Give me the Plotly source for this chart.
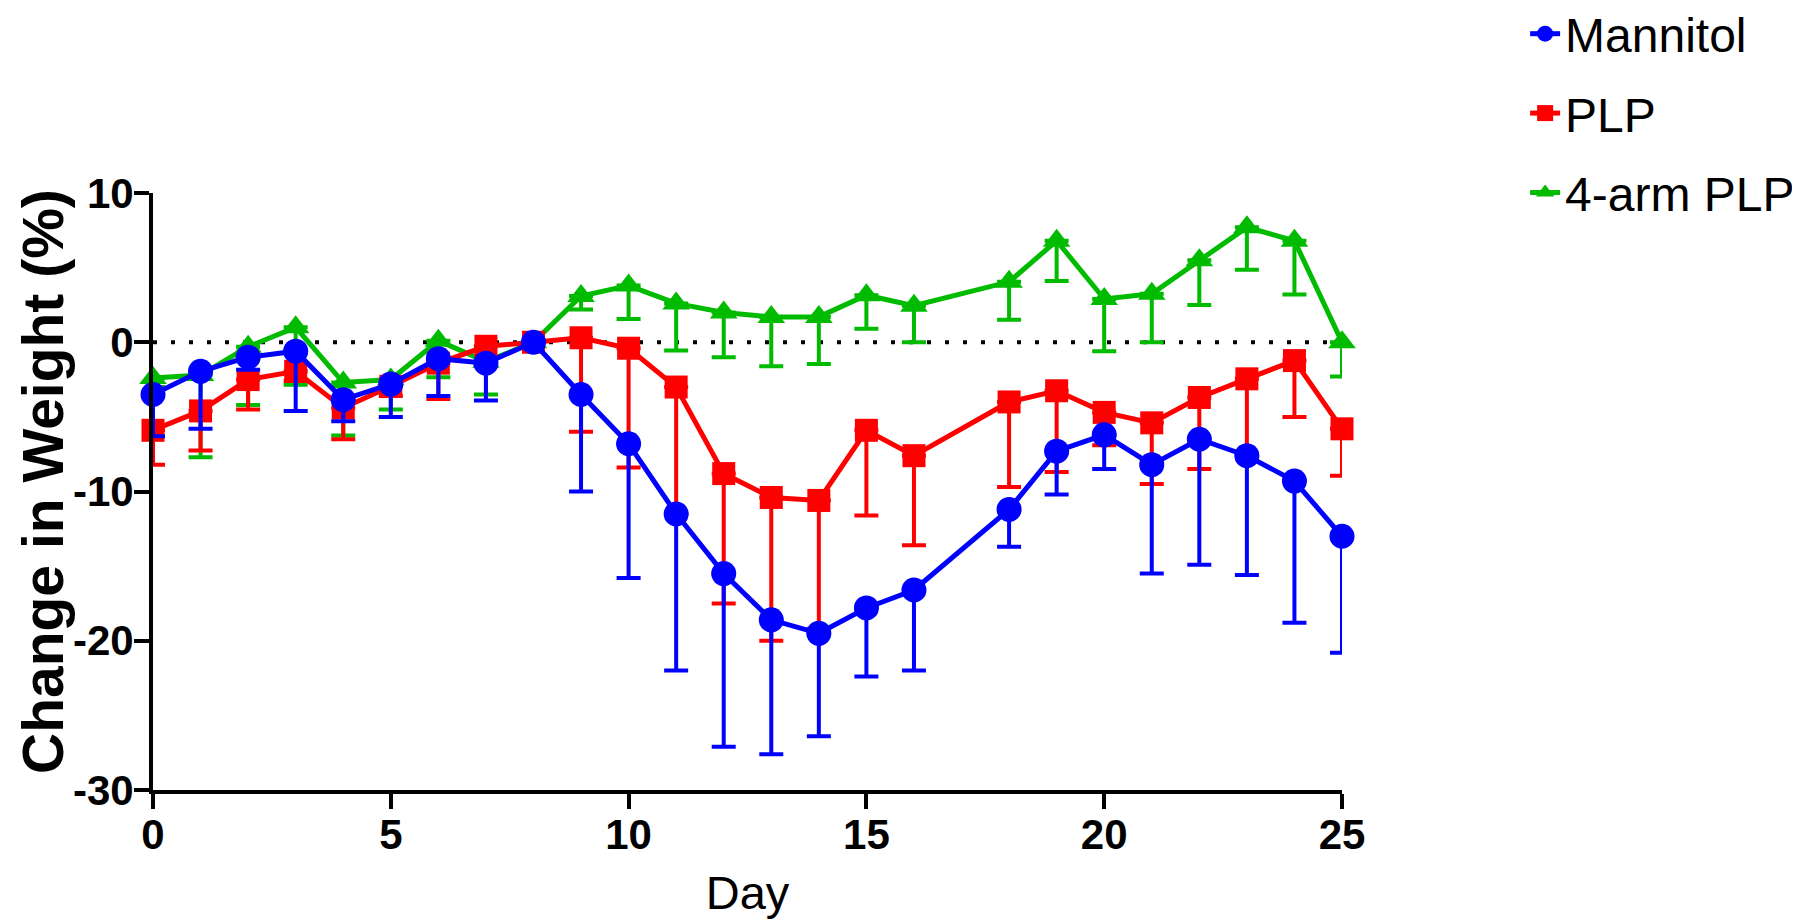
import plotly.graph_objects as go

days = [0, 1, 2, 3, 4, 5, 6, 7, 8, 9, 10, 11, 12, 13, 14, 15, 16, 18, 19, 20, 21, 22, 23, 24, 25]

mannitol_mean = [-3.5, -1.95, -1.0, -0.6, -3.85, -2.8, -1.1, -1.4, 0.0, -3.5, -6.8, -11.5, -15.5,
                 -18.6, -19.5, -17.8, -16.6, -11.2, -7.3, -6.2, -8.2, -6.5, -7.6, -9.3, -13.0]
mannitol_low = [-6.3, -5.8, -1.85, -4.6, -5.3, -5.0, -3.6, -3.9, 0.0, -10.0, -15.8, -22.0, -27.1,
                -27.6, -26.4, -22.4, -22.0, -13.7, -10.2, -8.5, -15.5, -14.9, -15.6, -18.8, -20.8]

plp_mean = [-5.9, -4.6, -2.5, -1.95, -4.4, -2.95, -1.4, -0.27, 0.0, 0.3, -0.4, -3.0, -8.8,
            -10.4, -10.6, -5.9, -7.6, -4.0, -3.25, -4.7, -5.4, -3.7, -2.45, -1.23, -5.8]
plp_low = [-8.2, -7.25, -4.5, -2.6, -6.5, -3.6, -3.8, -1.5, 0.0, -6.0, -8.4, -11.5, -17.5,
           -20.0, -19.2, -11.6, -13.6, -9.7, -8.7, -6.9, -9.5, -8.5, -7.5, -5.0, -8.95]

arm4_mean = [-2.4, -2.2, -0.3, 1.0, -2.7, -2.5, 0.1, -1.3, 0.0, 3.1, 3.8, 2.6, 2.0,
             1.7, 1.7, 3.15, 2.45, 4.05, 6.8, 2.9, 3.25, 5.5, 7.7, 6.8, 0.0]
arm4_low = [-3.0, -7.7, -4.2, -2.85, -6.25, -4.5, -2.35, -3.5, 0.0, 2.2, 1.55, -0.55, -1.0,
            -1.6, -1.45, 0.9, 0.0, 1.5, 4.1, -0.6, 0.0, 2.5, 4.85, 3.2, -2.3]

x_ticks = [0, 5, 10, 15, 20, 25]
y_ticks = [-30, -20, -10, 0, 10]
y_tick_text = ["-30", "-20", "-10", "0", "10"]

# drawing order: green first, blue on top; legend rank puts Mannitol first
series = [
    ("4-arm PLP", arm4_mean, arm4_low, "#00BB00", "triangle-up", 24, 3),
    ("PLP", plp_mean, plp_low, "#FF0000", "square", 23, 2),
    ("Mannitol", mannitol_mean, mannitol_low, "#0000FF", "circle", 25, 1),
]

fig = go.Figure()
for name, mean, low, color, symbol, size, rank in series:
    minus = [round(m - l, 3) for m, l in zip(mean, low)]
    fig.add_trace(go.Scatter(
        x=days, y=mean, name=name, legendgroup=name, legendrank=rank, mode="lines+markers",
        line=dict(color=color, width=5),
        marker=dict(color=color, symbol=symbol, size=size, line=dict(width=0)),
        error_y=dict(type="data", symmetric=False, array=[0] * len(days), arrayminus=minus,
                     color=color, thickness=4, width=12),
        cliponaxis=False,
    ))

fig.add_shape(type="line", xref="x", yref="y", x0=0, x1=25, y0=0, y1=0,
              line=dict(color="black", width=4, dash="4px,14px"), layer="below")

tickfont = dict(family="Liberation Sans", size=42, color="black", weight="bold")
fig.update_xaxes(
    range=[0, 25], tickvals=x_ticks, ticks="outside", ticklen=15, tickwidth=4,
    tickcolor="black", showline=True, linewidth=4, linecolor="black", showgrid=False,
    zeroline=False, tickfont=tickfont, ticklabelstandoff=-10,
    title=dict(text="Day", font=dict(family="Liberation Sans", size=47, color="black"), standoff=20),
)
fig.update_yaxes(
    range=[-30, 10], tickvals=y_ticks, ticktext=y_tick_text, ticks="outside", ticklen=15, tickwidth=4,
    tickcolor="black", showline=True, linewidth=4, linecolor="black", showgrid=False,
    zeroline=False, tickfont=tickfont, ticklabelstandoff=-8,
)

fig.add_annotation(
    text="Change in Weight (%)", textangle=-90, showarrow=False,
    xref="paper", yref="paper", x=-0.1211, xanchor="left", y=0.516, yanchor="middle",
    font=dict(family="Liberation Sans", size=57, color="black", weight="bold"),
)

fig.update_layout(
    width=1800, height=923,
    margin=dict(l=145, r=466, t=185, b=141, autoexpand=False),
    plot_bgcolor="white", paper_bgcolor="white",
    showlegend=True,
    legend=dict(x=1.154, y=1.33, xanchor="left", yanchor="top", traceorder="grouped",
                tracegroupgap=14, font=dict(family="Liberation Sans", size=48, color="black"),
                bgcolor="rgba(0,0,0,0)"),
)

fig.write_html("out.html")
